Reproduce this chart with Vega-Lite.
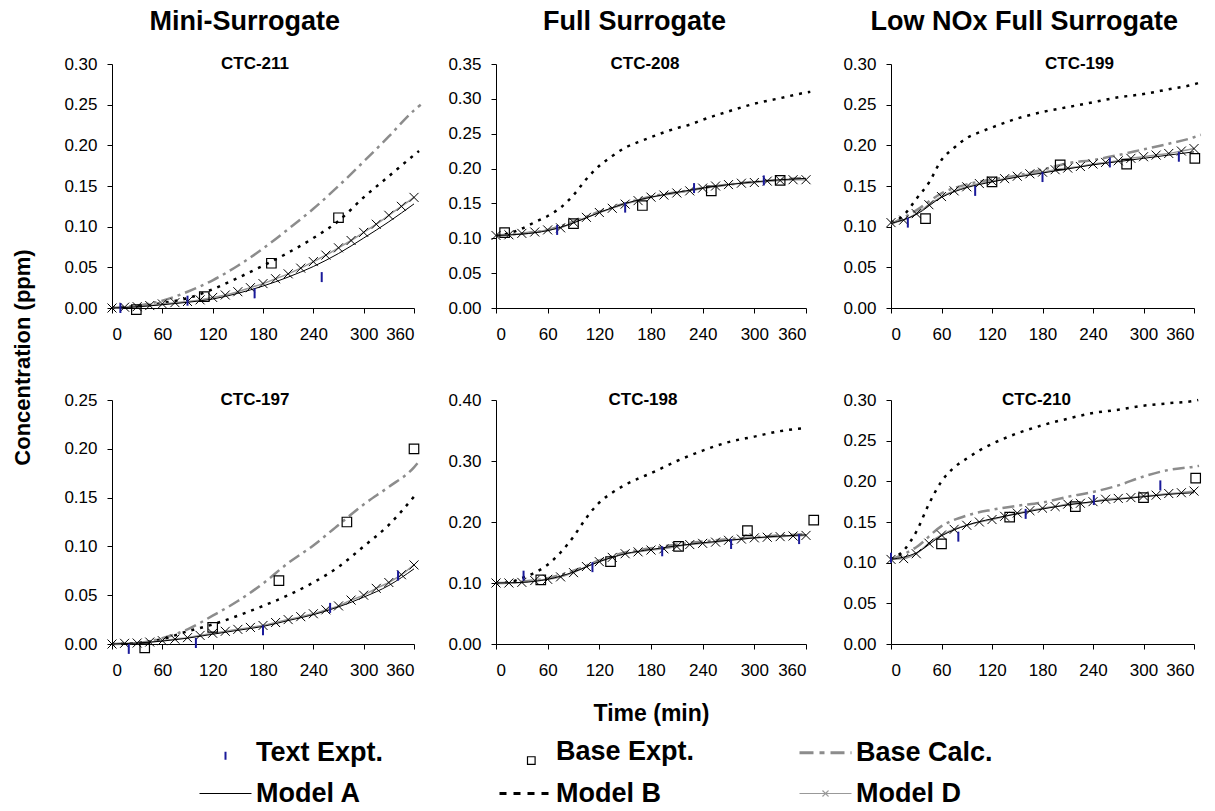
{
"$schema": "https://vega.github.io/schema/vega-lite/v6.json",
"padding": {"left": 11, "top": 8, "right": 5, "bottom": 5},
"background": "white",
"config": {
 "font": "Liberation Sans",
 "view": {"stroke": null},
 "axis": {"domainColor": "#000000", "tickColor": "#000000", "labelColor": "#000000", "labelFontSize": 17, "tickSize": 5, "grid": false, "labelFont": "Liberation Sans", "titleColor": "#000000"},
 "axisX": {"labelPadding": 13},
 "axisY": {"labelPadding": 10},
 "legend": {"direction": "horizontal"}
},
"title": {"text": "Concentration (ppm)", "orient": "left", "fontSize": 22, "fontWeight": "bold", "anchor": "middle", "offset": 29, "dx": 50, "color": "#000000"},
"datasets": {"d": [
{"run":"CTC-211","series":"Model D","t":0,"c":0},{"run":"CTC-211","series":"Model D","t":15,"c":0.001},{"run":"CTC-211","series":"Model D","t":30,"c":0.0016},{"run":"CTC-211","series":"Model D","t":45,"c":0.003},{"run":"CTC-211","series":"Model D","t":60,"c":0.005},{"run":"CTC-211","series":"Model D","t":75,"c":0.0066},{"run":"CTC-211","series":"Model D","t":90,"c":0.008},{"run":"CTC-211","series":"Model D","t":105,"c":0.01},{"run":"CTC-211","series":"Model D","t":120,"c":0.013},{"run":"CTC-211","series":"Model D","t":135,"c":0.016},{"run":"CTC-211","series":"Model D","t":150,"c":0.02},{"run":"CTC-211","series":"Model D","t":165,"c":0.025},{"run":"CTC-211","series":"Model D","t":180,"c":0.03},{"run":"CTC-211","series":"Model D","t":195,"c":0.036},{"run":"CTC-211","series":"Model D","t":210,"c":0.042},{"run":"CTC-211","series":"Model D","t":225,"c":0.049},{"run":"CTC-211","series":"Model D","t":240,"c":0.057},{"run":"CTC-211","series":"Model D","t":255,"c":0.065},{"run":"CTC-211","series":"Model D","t":270,"c":0.074},{"run":"CTC-211","series":"Model D","t":285,"c":0.083},{"run":"CTC-211","series":"Model D","t":300,"c":0.093},{"run":"CTC-211","series":"Model D","t":315,"c":0.103},{"run":"CTC-211","series":"Model D","t":330,"c":0.114},{"run":"CTC-211","series":"Model D","t":345,"c":0.125},{"run":"CTC-211","series":"Model D","t":360,"c":0.136},
{"run":"CTC-211","series":"Model A","t":0,"c":0},{"run":"CTC-211","series":"Model A","t":30,"c":0.0015},{"run":"CTC-211","series":"Model A","t":60,"c":0.004},{"run":"CTC-211","series":"Model A","t":90,"c":0.007},{"run":"CTC-211","series":"Model A","t":120,"c":0.011},{"run":"CTC-211","series":"Model A","t":150,"c":0.018},{"run":"CTC-211","series":"Model A","t":180,"c":0.027},{"run":"CTC-211","series":"Model A","t":210,"c":0.038},{"run":"CTC-211","series":"Model A","t":240,"c":0.051},{"run":"CTC-211","series":"Model A","t":270,"c":0.067},{"run":"CTC-211","series":"Model A","t":300,"c":0.086},{"run":"CTC-211","series":"Model A","t":330,"c":0.106},{"run":"CTC-211","series":"Model A","t":360,"c":0.128},
{"run":"CTC-211","series":"Base Calc.","t":0,"c":0},{"run":"CTC-211","series":"Base Calc.","t":30,"c":0.003},{"run":"CTC-211","series":"Base Calc.","t":60,"c":0.009},{"run":"CTC-211","series":"Base Calc.","t":90,"c":0.02},{"run":"CTC-211","series":"Base Calc.","t":120,"c":0.034},{"run":"CTC-211","series":"Base Calc.","t":150,"c":0.052},{"run":"CTC-211","series":"Base Calc.","t":180,"c":0.073},{"run":"CTC-211","series":"Base Calc.","t":210,"c":0.097},{"run":"CTC-211","series":"Base Calc.","t":240,"c":0.122},{"run":"CTC-211","series":"Base Calc.","t":270,"c":0.15},{"run":"CTC-211","series":"Base Calc.","t":300,"c":0.18},{"run":"CTC-211","series":"Base Calc.","t":330,"c":0.211},{"run":"CTC-211","series":"Base Calc.","t":360,"c":0.243},{"run":"CTC-211","series":"Base Calc.","t":368,"c":0.25},
{"run":"CTC-211","series":"Model B","t":0,"c":0},{"run":"CTC-211","series":"Model B","t":30,"c":0.002},{"run":"CTC-211","series":"Model B","t":60,"c":0.006},{"run":"CTC-211","series":"Model B","t":90,"c":0.012},{"run":"CTC-211","series":"Model B","t":120,"c":0.023},{"run":"CTC-211","series":"Model B","t":150,"c":0.037},{"run":"CTC-211","series":"Model B","t":180,"c":0.052},{"run":"CTC-211","series":"Model B","t":210,"c":0.068},{"run":"CTC-211","series":"Model B","t":240,"c":0.086},{"run":"CTC-211","series":"Model B","t":270,"c":0.107},{"run":"CTC-211","series":"Model B","t":300,"c":0.136},{"run":"CTC-211","series":"Model B","t":330,"c":0.162},{"run":"CTC-211","series":"Model B","t":360,"c":0.188},{"run":"CTC-211","series":"Model B","t":366,"c":0.193},
{"run":"CTC-211","series":"Base Expt.","t":29,"c":-0.002},{"run":"CTC-211","series":"Base Expt.","t":110,"c":0.014},{"run":"CTC-211","series":"Base Expt.","t":190,"c":0.055},{"run":"CTC-211","series":"Base Expt.","t":270,"c":0.111},
{"run":"CTC-211","series":"Text Expt.","t":10,"c":0},{"run":"CTC-211","series":"Text Expt.","t":90,"c":0.009},{"run":"CTC-211","series":"Text Expt.","t":170,"c":0.018},{"run":"CTC-211","series":"Text Expt.","t":250,"c":0.038},

{"run":"CTC-208","series":"Model D","t":0,"c":0.104},{"run":"CTC-208","series":"Model D","t":15,"c":0.105},{"run":"CTC-208","series":"Model D","t":30,"c":0.107},{"run":"CTC-208","series":"Model D","t":45,"c":0.109},{"run":"CTC-208","series":"Model D","t":60,"c":0.112},{"run":"CTC-208","series":"Model D","t":75,"c":0.115},{"run":"CTC-208","series":"Model D","t":90,"c":0.123},{"run":"CTC-208","series":"Model D","t":105,"c":0.13},{"run":"CTC-208","series":"Model D","t":120,"c":0.137},{"run":"CTC-208","series":"Model D","t":135,"c":0.143},{"run":"CTC-208","series":"Model D","t":150,"c":0.149},{"run":"CTC-208","series":"Model D","t":165,"c":0.154},{"run":"CTC-208","series":"Model D","t":180,"c":0.159},{"run":"CTC-208","series":"Model D","t":195,"c":0.162},{"run":"CTC-208","series":"Model D","t":210,"c":0.165},{"run":"CTC-208","series":"Model D","t":225,"c":0.168},{"run":"CTC-208","series":"Model D","t":240,"c":0.172},{"run":"CTC-208","series":"Model D","t":255,"c":0.175},{"run":"CTC-208","series":"Model D","t":270,"c":0.177},{"run":"CTC-208","series":"Model D","t":285,"c":0.179},{"run":"CTC-208","series":"Model D","t":300,"c":0.18},{"run":"CTC-208","series":"Model D","t":315,"c":0.182},{"run":"CTC-208","series":"Model D","t":330,"c":0.183},{"run":"CTC-208","series":"Model D","t":345,"c":0.184},{"run":"CTC-208","series":"Model D","t":360,"c":0.184},
{"run":"CTC-208","series":"Model A","t":0,"c":0.104},{"run":"CTC-208","series":"Model A","t":30,"c":0.106},{"run":"CTC-208","series":"Model A","t":60,"c":0.111},{"run":"CTC-208","series":"Model A","t":90,"c":0.122},{"run":"CTC-208","series":"Model A","t":120,"c":0.137},{"run":"CTC-208","series":"Model A","t":150,"c":0.15},{"run":"CTC-208","series":"Model A","t":180,"c":0.159},{"run":"CTC-208","series":"Model A","t":210,"c":0.166},{"run":"CTC-208","series":"Model A","t":240,"c":0.172},{"run":"CTC-208","series":"Model A","t":270,"c":0.177},{"run":"CTC-208","series":"Model A","t":300,"c":0.181},{"run":"CTC-208","series":"Model A","t":330,"c":0.184},{"run":"CTC-208","series":"Model A","t":360,"c":0.186},
{"run":"CTC-208","series":"Base Calc.","t":0,"c":0.104},{"run":"CTC-208","series":"Base Calc.","t":30,"c":0.107},{"run":"CTC-208","series":"Base Calc.","t":60,"c":0.112},{"run":"CTC-208","series":"Base Calc.","t":90,"c":0.124},{"run":"CTC-208","series":"Base Calc.","t":120,"c":0.138},{"run":"CTC-208","series":"Base Calc.","t":150,"c":0.15},{"run":"CTC-208","series":"Base Calc.","t":180,"c":0.16},{"run":"CTC-208","series":"Base Calc.","t":210,"c":0.166},{"run":"CTC-208","series":"Base Calc.","t":240,"c":0.172},{"run":"CTC-208","series":"Base Calc.","t":270,"c":0.177},{"run":"CTC-208","series":"Base Calc.","t":300,"c":0.181},{"run":"CTC-208","series":"Base Calc.","t":330,"c":0.184},{"run":"CTC-208","series":"Base Calc.","t":360,"c":0.187},
{"run":"CTC-208","series":"Model B","t":0,"c":0.104},{"run":"CTC-208","series":"Model B","t":15,"c":0.107},{"run":"CTC-208","series":"Model B","t":30,"c":0.114},{"run":"CTC-208","series":"Model B","t":45,"c":0.123},{"run":"CTC-208","series":"Model B","t":60,"c":0.132},{"run":"CTC-208","series":"Model B","t":75,"c":0.144},{"run":"CTC-208","series":"Model B","t":90,"c":0.162},{"run":"CTC-208","series":"Model B","t":105,"c":0.185},{"run":"CTC-208","series":"Model B","t":120,"c":0.204},{"run":"CTC-208","series":"Model B","t":135,"c":0.218},{"run":"CTC-208","series":"Model B","t":150,"c":0.23},{"run":"CTC-208","series":"Model B","t":165,"c":0.238},{"run":"CTC-208","series":"Model B","t":180,"c":0.245},{"run":"CTC-208","series":"Model B","t":195,"c":0.252},{"run":"CTC-208","series":"Model B","t":210,"c":0.258},{"run":"CTC-208","series":"Model B","t":225,"c":0.263},{"run":"CTC-208","series":"Model B","t":240,"c":0.27},{"run":"CTC-208","series":"Model B","t":270,"c":0.282},{"run":"CTC-208","series":"Model B","t":300,"c":0.293},{"run":"CTC-208","series":"Model B","t":330,"c":0.301},{"run":"CTC-208","series":"Model B","t":360,"c":0.309},{"run":"CTC-208","series":"Model B","t":365,"c":0.31},
{"run":"CTC-208","series":"Base Expt.","t":10,"c":0.108},{"run":"CTC-208","series":"Base Expt.","t":90,"c":0.121},{"run":"CTC-208","series":"Base Expt.","t":170,"c":0.147},{"run":"CTC-208","series":"Base Expt.","t":250,"c":0.168},{"run":"CTC-208","series":"Base Expt.","t":330,"c":0.183},
{"run":"CTC-208","series":"Text Expt.","t":71,"c":0.112},{"run":"CTC-208","series":"Text Expt.","t":150,"c":0.144},{"run":"CTC-208","series":"Text Expt.","t":230,"c":0.172},{"run":"CTC-208","series":"Text Expt.","t":311,"c":0.183},

{"run":"CTC-199","series":"Model D","t":0,"c":0.105},{"run":"CTC-199","series":"Model D","t":15,"c":0.108},{"run":"CTC-199","series":"Model D","t":30,"c":0.116},{"run":"CTC-199","series":"Model D","t":45,"c":0.127},{"run":"CTC-199","series":"Model D","t":60,"c":0.137},{"run":"CTC-199","series":"Model D","t":75,"c":0.144},{"run":"CTC-199","series":"Model D","t":90,"c":0.149},{"run":"CTC-199","series":"Model D","t":105,"c":0.153},{"run":"CTC-199","series":"Model D","t":120,"c":0.156},{"run":"CTC-199","series":"Model D","t":135,"c":0.159},{"run":"CTC-199","series":"Model D","t":150,"c":0.162},{"run":"CTC-199","series":"Model D","t":165,"c":0.165},{"run":"CTC-199","series":"Model D","t":180,"c":0.167},{"run":"CTC-199","series":"Model D","t":195,"c":0.17},{"run":"CTC-199","series":"Model D","t":210,"c":0.172},{"run":"CTC-199","series":"Model D","t":225,"c":0.174},{"run":"CTC-199","series":"Model D","t":240,"c":0.177},{"run":"CTC-199","series":"Model D","t":255,"c":0.179},{"run":"CTC-199","series":"Model D","t":270,"c":0.181},{"run":"CTC-199","series":"Model D","t":285,"c":0.184},{"run":"CTC-199","series":"Model D","t":300,"c":0.186},{"run":"CTC-199","series":"Model D","t":315,"c":0.188},{"run":"CTC-199","series":"Model D","t":330,"c":0.19},{"run":"CTC-199","series":"Model D","t":345,"c":0.193},{"run":"CTC-199","series":"Model D","t":360,"c":0.196},
{"run":"CTC-199","series":"Model A","t":0,"c":0.104},{"run":"CTC-199","series":"Model A","t":30,"c":0.115},{"run":"CTC-199","series":"Model A","t":60,"c":0.136},{"run":"CTC-199","series":"Model A","t":90,"c":0.148},{"run":"CTC-199","series":"Model A","t":120,"c":0.155},{"run":"CTC-199","series":"Model A","t":150,"c":0.161},{"run":"CTC-199","series":"Model A","t":180,"c":0.166},{"run":"CTC-199","series":"Model A","t":210,"c":0.171},{"run":"CTC-199","series":"Model A","t":240,"c":0.176},{"run":"CTC-199","series":"Model A","t":270,"c":0.18},{"run":"CTC-199","series":"Model A","t":300,"c":0.184},{"run":"CTC-199","series":"Model A","t":330,"c":0.188},{"run":"CTC-199","series":"Model A","t":360,"c":0.192},
{"run":"CTC-199","series":"Base Calc.","t":0,"c":0.103},{"run":"CTC-199","series":"Base Calc.","t":30,"c":0.12},{"run":"CTC-199","series":"Base Calc.","t":60,"c":0.141},{"run":"CTC-199","series":"Base Calc.","t":90,"c":0.152},{"run":"CTC-199","series":"Base Calc.","t":120,"c":0.158},{"run":"CTC-199","series":"Base Calc.","t":150,"c":0.163},{"run":"CTC-199","series":"Base Calc.","t":180,"c":0.17},{"run":"CTC-199","series":"Base Calc.","t":210,"c":0.178},{"run":"CTC-199","series":"Base Calc.","t":240,"c":0.182},{"run":"CTC-199","series":"Base Calc.","t":270,"c":0.188},{"run":"CTC-199","series":"Base Calc.","t":300,"c":0.195},{"run":"CTC-199","series":"Base Calc.","t":330,"c":0.202},{"run":"CTC-199","series":"Base Calc.","t":360,"c":0.21},{"run":"CTC-199","series":"Base Calc.","t":368,"c":0.213},
{"run":"CTC-199","series":"Model B","t":0,"c":0.105},{"run":"CTC-199","series":"Model B","t":15,"c":0.114},{"run":"CTC-199","series":"Model B","t":30,"c":0.134},{"run":"CTC-199","series":"Model B","t":45,"c":0.154},{"run":"CTC-199","series":"Model B","t":60,"c":0.182},{"run":"CTC-199","series":"Model B","t":75,"c":0.197},{"run":"CTC-199","series":"Model B","t":90,"c":0.209},{"run":"CTC-199","series":"Model B","t":105,"c":0.216},{"run":"CTC-199","series":"Model B","t":120,"c":0.222},{"run":"CTC-199","series":"Model B","t":150,"c":0.233},{"run":"CTC-199","series":"Model B","t":180,"c":0.241},{"run":"CTC-199","series":"Model B","t":210,"c":0.247},{"run":"CTC-199","series":"Model B","t":240,"c":0.253},{"run":"CTC-199","series":"Model B","t":270,"c":0.259},{"run":"CTC-199","series":"Model B","t":300,"c":0.263},{"run":"CTC-199","series":"Model B","t":330,"c":0.269},{"run":"CTC-199","series":"Model B","t":360,"c":0.275},{"run":"CTC-199","series":"Model B","t":366,"c":0.277},
{"run":"CTC-199","series":"Base Expt.","t":41,"c":0.11},{"run":"CTC-199","series":"Base Expt.","t":120,"c":0.155},{"run":"CTC-199","series":"Base Expt.","t":201,"c":0.176},{"run":"CTC-199","series":"Base Expt.","t":280,"c":0.177},{"run":"CTC-199","series":"Base Expt.","t":361,"c":0.184},
{"run":"CTC-199","series":"Text Expt.","t":20,"c":0.105},{"run":"CTC-199","series":"Text Expt.","t":100,"c":0.144},{"run":"CTC-199","series":"Text Expt.","t":180,"c":0.161},{"run":"CTC-199","series":"Text Expt.","t":260,"c":0.179},{"run":"CTC-199","series":"Text Expt.","t":342,"c":0.186},

{"run":"CTC-197","series":"Model D","t":0,"c":0},{"run":"CTC-197","series":"Model D","t":15,"c":0.0007},{"run":"CTC-197","series":"Model D","t":30,"c":0.001},{"run":"CTC-197","series":"Model D","t":45,"c":0.002},{"run":"CTC-197","series":"Model D","t":60,"c":0.0034},{"run":"CTC-197","series":"Model D","t":75,"c":0.005},{"run":"CTC-197","series":"Model D","t":90,"c":0.0065},{"run":"CTC-197","series":"Model D","t":105,"c":0.0088},{"run":"CTC-197","series":"Model D","t":120,"c":0.011},{"run":"CTC-197","series":"Model D","t":135,"c":0.013},{"run":"CTC-197","series":"Model D","t":150,"c":0.015},{"run":"CTC-197","series":"Model D","t":165,"c":0.017},{"run":"CTC-197","series":"Model D","t":180,"c":0.019},{"run":"CTC-197","series":"Model D","t":195,"c":0.022},{"run":"CTC-197","series":"Model D","t":210,"c":0.025},{"run":"CTC-197","series":"Model D","t":225,"c":0.028},{"run":"CTC-197","series":"Model D","t":240,"c":0.031},{"run":"CTC-197","series":"Model D","t":255,"c":0.035},{"run":"CTC-197","series":"Model D","t":270,"c":0.039},{"run":"CTC-197","series":"Model D","t":285,"c":0.045},{"run":"CTC-197","series":"Model D","t":300,"c":0.05},{"run":"CTC-197","series":"Model D","t":315,"c":0.057},{"run":"CTC-197","series":"Model D","t":330,"c":0.063},{"run":"CTC-197","series":"Model D","t":345,"c":0.071},{"run":"CTC-197","series":"Model D","t":360,"c":0.081},
{"run":"CTC-197","series":"Model A","t":0,"c":0},{"run":"CTC-197","series":"Model A","t":30,"c":0.001},{"run":"CTC-197","series":"Model A","t":60,"c":0.003},{"run":"CTC-197","series":"Model A","t":90,"c":0.006},{"run":"CTC-197","series":"Model A","t":120,"c":0.01},{"run":"CTC-197","series":"Model A","t":150,"c":0.014},{"run":"CTC-197","series":"Model A","t":180,"c":0.018},{"run":"CTC-197","series":"Model A","t":210,"c":0.024},{"run":"CTC-197","series":"Model A","t":240,"c":0.03},{"run":"CTC-197","series":"Model A","t":270,"c":0.038},{"run":"CTC-197","series":"Model A","t":300,"c":0.048},{"run":"CTC-197","series":"Model A","t":330,"c":0.06},{"run":"CTC-197","series":"Model A","t":360,"c":0.077},
{"run":"CTC-197","series":"Base Calc.","t":0,"c":0},{"run":"CTC-197","series":"Base Calc.","t":30,"c":0.001},{"run":"CTC-197","series":"Base Calc.","t":60,"c":0.006},{"run":"CTC-197","series":"Base Calc.","t":90,"c":0.015},{"run":"CTC-197","series":"Base Calc.","t":120,"c":0.029},{"run":"CTC-197","series":"Base Calc.","t":150,"c":0.044},{"run":"CTC-197","series":"Base Calc.","t":180,"c":0.062},{"run":"CTC-197","series":"Base Calc.","t":210,"c":0.083},{"run":"CTC-197","series":"Base Calc.","t":240,"c":0.101},{"run":"CTC-197","series":"Base Calc.","t":270,"c":0.122},{"run":"CTC-197","series":"Base Calc.","t":300,"c":0.143},{"run":"CTC-197","series":"Base Calc.","t":330,"c":0.161},{"run":"CTC-197","series":"Base Calc.","t":360,"c":0.181},{"run":"CTC-197","series":"Base Calc.","t":365,"c":0.186},
{"run":"CTC-197","series":"Model B","t":0,"c":0},{"run":"CTC-197","series":"Model B","t":30,"c":0.001},{"run":"CTC-197","series":"Model B","t":60,"c":0.005},{"run":"CTC-197","series":"Model B","t":90,"c":0.013},{"run":"CTC-197","series":"Model B","t":120,"c":0.02},{"run":"CTC-197","series":"Model B","t":150,"c":0.029},{"run":"CTC-197","series":"Model B","t":180,"c":0.039},{"run":"CTC-197","series":"Model B","t":210,"c":0.05},{"run":"CTC-197","series":"Model B","t":240,"c":0.063},{"run":"CTC-197","series":"Model B","t":270,"c":0.079},{"run":"CTC-197","series":"Model B","t":300,"c":0.1},{"run":"CTC-197","series":"Model B","t":330,"c":0.122},{"run":"CTC-197","series":"Model B","t":360,"c":0.151},
{"run":"CTC-197","series":"Base Expt.","t":39,"c":-0.004},{"run":"CTC-197","series":"Base Expt.","t":120,"c":0.017},{"run":"CTC-197","series":"Base Expt.","t":199,"c":0.065},{"run":"CTC-197","series":"Base Expt.","t":280,"c":0.125},{"run":"CTC-197","series":"Base Expt.","t":360,"c":0.2},
{"run":"CTC-197","series":"Text Expt.","t":20,"c":-0.005},{"run":"CTC-197","series":"Text Expt.","t":100,"c":0.001},{"run":"CTC-197","series":"Text Expt.","t":180,"c":0.014},{"run":"CTC-197","series":"Text Expt.","t":260,"c":0.037},{"run":"CTC-197","series":"Text Expt.","t":341,"c":0.07},

{"run":"CTC-198","series":"Model D","t":0,"c":0.1},{"run":"CTC-198","series":"Model D","t":15,"c":0.1},{"run":"CTC-198","series":"Model D","t":30,"c":0.101},{"run":"CTC-198","series":"Model D","t":45,"c":0.104},{"run":"CTC-198","series":"Model D","t":60,"c":0.106},{"run":"CTC-198","series":"Model D","t":75,"c":0.11},{"run":"CTC-198","series":"Model D","t":90,"c":0.117},{"run":"CTC-198","series":"Model D","t":105,"c":0.127},{"run":"CTC-198","series":"Model D","t":120,"c":0.135},{"run":"CTC-198","series":"Model D","t":135,"c":0.142},{"run":"CTC-198","series":"Model D","t":150,"c":0.148},{"run":"CTC-198","series":"Model D","t":165,"c":0.151},{"run":"CTC-198","series":"Model D","t":180,"c":0.154},{"run":"CTC-198","series":"Model D","t":195,"c":0.156},{"run":"CTC-198","series":"Model D","t":210,"c":0.16},{"run":"CTC-198","series":"Model D","t":225,"c":0.163},{"run":"CTC-198","series":"Model D","t":240,"c":0.165},{"run":"CTC-198","series":"Model D","t":255,"c":0.167},{"run":"CTC-198","series":"Model D","t":270,"c":0.17},{"run":"CTC-198","series":"Model D","t":285,"c":0.172},{"run":"CTC-198","series":"Model D","t":300,"c":0.174},{"run":"CTC-198","series":"Model D","t":315,"c":0.175},{"run":"CTC-198","series":"Model D","t":330,"c":0.176},{"run":"CTC-198","series":"Model D","t":345,"c":0.177},{"run":"CTC-198","series":"Model D","t":360,"c":0.178},
{"run":"CTC-198","series":"Model A","t":0,"c":0.1},{"run":"CTC-198","series":"Model A","t":30,"c":0.101},{"run":"CTC-198","series":"Model A","t":60,"c":0.106},{"run":"CTC-198","series":"Model A","t":90,"c":0.118},{"run":"CTC-198","series":"Model A","t":120,"c":0.135},{"run":"CTC-198","series":"Model A","t":150,"c":0.148},{"run":"CTC-198","series":"Model A","t":180,"c":0.155},{"run":"CTC-198","series":"Model A","t":210,"c":0.161},{"run":"CTC-198","series":"Model A","t":240,"c":0.166},{"run":"CTC-198","series":"Model A","t":270,"c":0.17},{"run":"CTC-198","series":"Model A","t":300,"c":0.174},{"run":"CTC-198","series":"Model A","t":330,"c":0.177},{"run":"CTC-198","series":"Model A","t":360,"c":0.179},
{"run":"CTC-198","series":"Base Calc.","t":0,"c":0.1},{"run":"CTC-198","series":"Base Calc.","t":30,"c":0.102},{"run":"CTC-198","series":"Base Calc.","t":60,"c":0.108},{"run":"CTC-198","series":"Base Calc.","t":90,"c":0.12},{"run":"CTC-198","series":"Base Calc.","t":120,"c":0.137},{"run":"CTC-198","series":"Base Calc.","t":150,"c":0.15},{"run":"CTC-198","series":"Base Calc.","t":180,"c":0.157},{"run":"CTC-198","series":"Base Calc.","t":210,"c":0.163},{"run":"CTC-198","series":"Base Calc.","t":240,"c":0.168},{"run":"CTC-198","series":"Base Calc.","t":270,"c":0.172},{"run":"CTC-198","series":"Base Calc.","t":300,"c":0.175},{"run":"CTC-198","series":"Base Calc.","t":330,"c":0.178},{"run":"CTC-198","series":"Base Calc.","t":360,"c":0.18},
{"run":"CTC-198","series":"Model B","t":0,"c":0.1},{"run":"CTC-198","series":"Model B","t":15,"c":0.101},{"run":"CTC-198","series":"Model B","t":30,"c":0.108},{"run":"CTC-198","series":"Model B","t":45,"c":0.117},{"run":"CTC-198","series":"Model B","t":60,"c":0.13},{"run":"CTC-198","series":"Model B","t":75,"c":0.15},{"run":"CTC-198","series":"Model B","t":90,"c":0.176},{"run":"CTC-198","series":"Model B","t":105,"c":0.207},{"run":"CTC-198","series":"Model B","t":120,"c":0.232},{"run":"CTC-198","series":"Model B","t":135,"c":0.248},{"run":"CTC-198","series":"Model B","t":150,"c":0.261},{"run":"CTC-198","series":"Model B","t":165,"c":0.271},{"run":"CTC-198","series":"Model B","t":180,"c":0.28},{"run":"CTC-198","series":"Model B","t":210,"c":0.3},{"run":"CTC-198","series":"Model B","t":240,"c":0.317},{"run":"CTC-198","series":"Model B","t":270,"c":0.331},{"run":"CTC-198","series":"Model B","t":300,"c":0.34},{"run":"CTC-198","series":"Model B","t":330,"c":0.349},{"run":"CTC-198","series":"Model B","t":360,"c":0.354},
{"run":"CTC-198","series":"Base Expt.","t":52,"c":0.105},{"run":"CTC-198","series":"Base Expt.","t":133,"c":0.135},{"run":"CTC-198","series":"Base Expt.","t":212,"c":0.16},{"run":"CTC-198","series":"Base Expt.","t":292,"c":0.186},{"run":"CTC-198","series":"Base Expt.","t":369,"c":0.203},
{"run":"CTC-198","series":"Text Expt.","t":32,"c":0.112},{"run":"CTC-198","series":"Text Expt.","t":112,"c":0.126},{"run":"CTC-198","series":"Text Expt.","t":193,"c":0.152},{"run":"CTC-198","series":"Text Expt.","t":273,"c":0.164},{"run":"CTC-198","series":"Text Expt.","t":352,"c":0.172},

{"run":"CTC-210","series":"Model D","t":0,"c":0.104},{"run":"CTC-210","series":"Model D","t":15,"c":0.105},{"run":"CTC-210","series":"Model D","t":30,"c":0.111},{"run":"CTC-210","series":"Model D","t":45,"c":0.124},{"run":"CTC-210","series":"Model D","t":60,"c":0.134},{"run":"CTC-210","series":"Model D","t":75,"c":0.141},{"run":"CTC-210","series":"Model D","t":90,"c":0.146},{"run":"CTC-210","series":"Model D","t":105,"c":0.15},{"run":"CTC-210","series":"Model D","t":120,"c":0.153},{"run":"CTC-210","series":"Model D","t":135,"c":0.157},{"run":"CTC-210","series":"Model D","t":150,"c":0.161},{"run":"CTC-210","series":"Model D","t":165,"c":0.164},{"run":"CTC-210","series":"Model D","t":180,"c":0.167},{"run":"CTC-210","series":"Model D","t":195,"c":0.169},{"run":"CTC-210","series":"Model D","t":210,"c":0.172},{"run":"CTC-210","series":"Model D","t":225,"c":0.173},{"run":"CTC-210","series":"Model D","t":240,"c":0.175},{"run":"CTC-210","series":"Model D","t":255,"c":0.178},{"run":"CTC-210","series":"Model D","t":270,"c":0.179},{"run":"CTC-210","series":"Model D","t":285,"c":0.18},{"run":"CTC-210","series":"Model D","t":300,"c":0.182},{"run":"CTC-210","series":"Model D","t":315,"c":0.183},{"run":"CTC-210","series":"Model D","t":330,"c":0.185},{"run":"CTC-210","series":"Model D","t":345,"c":0.186},{"run":"CTC-210","series":"Model D","t":360,"c":0.188},
{"run":"CTC-210","series":"Model A","t":0,"c":0.104},{"run":"CTC-210","series":"Model A","t":30,"c":0.112},{"run":"CTC-210","series":"Model A","t":60,"c":0.133},{"run":"CTC-210","series":"Model A","t":90,"c":0.146},{"run":"CTC-210","series":"Model A","t":120,"c":0.154},{"run":"CTC-210","series":"Model A","t":150,"c":0.16},{"run":"CTC-210","series":"Model A","t":180,"c":0.166},{"run":"CTC-210","series":"Model A","t":210,"c":0.171},{"run":"CTC-210","series":"Model A","t":240,"c":0.175},{"run":"CTC-210","series":"Model A","t":270,"c":0.178},{"run":"CTC-210","series":"Model A","t":300,"c":0.181},{"run":"CTC-210","series":"Model A","t":330,"c":0.184},{"run":"CTC-210","series":"Model A","t":360,"c":0.186},
{"run":"CTC-210","series":"Base Calc.","t":0,"c":0.104},{"run":"CTC-210","series":"Base Calc.","t":30,"c":0.119},{"run":"CTC-210","series":"Base Calc.","t":60,"c":0.145},{"run":"CTC-210","series":"Base Calc.","t":90,"c":0.158},{"run":"CTC-210","series":"Base Calc.","t":120,"c":0.165},{"run":"CTC-210","series":"Base Calc.","t":150,"c":0.17},{"run":"CTC-210","series":"Base Calc.","t":180,"c":0.174},{"run":"CTC-210","series":"Base Calc.","t":210,"c":0.181},{"run":"CTC-210","series":"Base Calc.","t":240,"c":0.187},{"run":"CTC-210","series":"Base Calc.","t":270,"c":0.195},{"run":"CTC-210","series":"Base Calc.","t":300,"c":0.206},{"run":"CTC-210","series":"Base Calc.","t":330,"c":0.214},{"run":"CTC-210","series":"Base Calc.","t":360,"c":0.218},{"run":"CTC-210","series":"Base Calc.","t":366,"c":0.219},
{"run":"CTC-210","series":"Model B","t":0,"c":0.104},{"run":"CTC-210","series":"Model B","t":15,"c":0.115},{"run":"CTC-210","series":"Model B","t":30,"c":0.138},{"run":"CTC-210","series":"Model B","t":45,"c":0.172},{"run":"CTC-210","series":"Model B","t":60,"c":0.2},{"run":"CTC-210","series":"Model B","t":75,"c":0.217},{"run":"CTC-210","series":"Model B","t":90,"c":0.228},{"run":"CTC-210","series":"Model B","t":105,"c":0.238},{"run":"CTC-210","series":"Model B","t":120,"c":0.246},{"run":"CTC-210","series":"Model B","t":150,"c":0.259},{"run":"CTC-210","series":"Model B","t":180,"c":0.269},{"run":"CTC-210","series":"Model B","t":210,"c":0.277},{"run":"CTC-210","series":"Model B","t":240,"c":0.284},{"run":"CTC-210","series":"Model B","t":270,"c":0.288},{"run":"CTC-210","series":"Model B","t":300,"c":0.293},{"run":"CTC-210","series":"Model B","t":330,"c":0.296},{"run":"CTC-210","series":"Model B","t":360,"c":0.299},{"run":"CTC-210","series":"Model B","t":365,"c":0.3},
{"run":"CTC-210","series":"Base Expt.","t":60,"c":0.123},{"run":"CTC-210","series":"Base Expt.","t":141,"c":0.156},{"run":"CTC-210","series":"Base Expt.","t":219,"c":0.169},{"run":"CTC-210","series":"Base Expt.","t":300,"c":0.18},{"run":"CTC-210","series":"Base Expt.","t":362,"c":0.204},
{"run":"CTC-210","series":"Text Expt.","t":0,"c":0.106},{"run":"CTC-210","series":"Text Expt.","t":80,"c":0.132},{"run":"CTC-210","series":"Text Expt.","t":160,"c":0.16},{"run":"CTC-210","series":"Text Expt.","t":241,"c":0.177},{"run":"CTC-210","series":"Text Expt.","t":320,"c":0.195}
]},
"spacing": 21,
"hconcat": [
 {"title": {"text": "Mini-Surrogate", "fontSize": 27, "fontWeight": "bold", "anchor": "middle", "offset": 19, "color": "#000000"},
  "spacing": 49,
  "vconcat": [
   {"width": 302, "height": 244, "data": {"name": "d"},
    "transform": [{"filter": "datum.run === 'CTC-211'"}],
    "title": {"text": "CTC-211", "fontSize": 17, "fontWeight": "bold", "anchor": "middle", "frame": "group", "offset": -18, "dx": -8, "color": "#000000"},
    "encoding": {
     "x": {"field": "t", "type": "quantitative", "scale": {"domain": [0, 360], "nice": false, "zero": false}, "axis": {"values": [0, 60, 120, 180, 240, 300, 360], "title": null}},
     "y": {"field": "c", "type": "quantitative", "scale": {"domain": [0, 0.3], "nice": false, "zero": false}, "axis": {"values": [0, 0.05, 0.1, 0.15, 0.2, 0.25, 0.3], "format": ".2f", "title": null}},
     "color": {"field": "series", "type": "nominal",
      "scale": {"domain": ["Text Expt.", "Base Expt.", "Base Calc.", "Model A", "Model B", "Model D"], "range": ["#1a1a9a", "#000000", "#8c8c8c", "#000000", "#000000", "#999999"]},
      "legend": {"title": null, "orient": "none", "direction": "horizontal", "legendX": 100, "legendY": 674, "columns": 3, "gridAlign": "all", "columnPadding": 98, "rowPadding": 12, "symbolSize": 1600, "labelFontSize": 27, "labelFontWeight": "bold", "labelFont": "Liberation Sans", "labelColor": "#000000", "labelOffset": 17, "labelLimit": 400,
       "encode": {"symbols": {"update": {
        "shape": {"signal": "datum.value === 'Text Expt.' ? 'M0,-0.05L0,0.35' : datum.value === 'Base Expt.' ? 'M0.1,0.25L0.48,0.25L0.48,0.63L0.1,0.63Z' : datum.value === 'Model D' ? 'M-1.3,0L1.3,0M-0.15,-0.15L0.15,0.15M-0.15,0.15L0.15,-0.15' : 'M-1.3,0L1.3,0'"},
        "stroke": {"signal": "datum.value === 'Text Expt.' ? '#1a1a9a' : datum.value === 'Base Calc.' ? '#8c8c8c' : datum.value === 'Model A' ? '#555555' : datum.value === 'Model D' ? '#777777' : '#000000'"},
        "strokeWidth": {"signal": "datum.value === 'Base Calc.' || datum.value === 'Model B' ? 3 : datum.value === 'Text Expt.' ? 2 : 1.2"},
        "strokeDash": {"signal": "datum.value === 'Base Calc.' ? [14, 6, 5, 6] : datum.value === 'Model B' ? [7, 7] : [1, 0]"},
        "fill": {"value": "transparent"},
        "size": {"value": 1600},
        "opacity": {"value": 1}}}}}}
    },
    "layer": [
     {"transform": [{"filter": "datum.series === 'Base Calc.'"}], "mark": {"type": "line", "interpolate": "monotone", "strokeWidth": 2.5, "strokeDash": [12, 5, 3, 5]}},
     {"transform": [{"filter": "datum.series === 'Model B'"}], "mark": {"type": "line", "interpolate": "monotone", "strokeWidth": 2.5, "strokeDash": [3, 6]}},
     {"transform": [{"filter": "datum.series === 'Model D'"}], "mark": {"type": "line", "interpolate": "monotone", "strokeWidth": 1.5}},
     {"transform": [{"filter": "datum.series === 'Model A'"}], "mark": {"type": "line", "interpolate": "monotone", "strokeWidth": 1}},
     {"transform": [{"filter": "datum.series === 'Model D'"}], "mark": {"type": "point", "shape": "M-1,-1L1,1M-1,1L1,-1", "size": 81, "strokeWidth": 1, "filled": false, "opacity": 1}, "encoding": {"color": {"value": "#000000"}}},
     {"transform": [{"filter": "datum.series === 'Base Expt.'"}], "mark": {"type": "point", "shape": "square", "size": 90, "strokeWidth": 1.2, "filled": false, "opacity": 1}},
     {"transform": [{"filter": "datum.series === 'Text Expt.'"}], "mark": {"type": "point", "shape": "M0,-1L0,1", "size": 100, "strokeWidth": 2, "filled": false, "opacity": 1}}
    ]},
   {"width": 302, "height": 244, "data": {"name": "d"},
    "transform": [{"filter": "datum.run === 'CTC-197'"}],
    "title": {"text": "CTC-197", "fontSize": 17, "fontWeight": "bold", "anchor": "middle", "frame": "group", "offset": -18, "dx": -8, "color": "#000000"},
    "encoding": {
     "x": {"field": "t", "type": "quantitative", "scale": {"domain": [0, 360], "nice": false, "zero": false}, "axis": {"values": [0, 60, 120, 180, 240, 300, 360], "title": null}},
     "y": {"field": "c", "type": "quantitative", "scale": {"domain": [0, 0.25], "nice": false, "zero": false}, "axis": {"values": [0, 0.05, 0.1, 0.15, 0.2, 0.25], "format": ".2f", "title": null}},
     "color": {"field": "series", "type": "nominal",
      "scale": {"domain": ["Text Expt.", "Base Expt.", "Base Calc.", "Model A", "Model B", "Model D"], "range": ["#1a1a9a", "#000000", "#8c8c8c", "#000000", "#000000", "#999999"]},
      "legend": {"title": null, "orient": "none", "direction": "horizontal", "legendX": 100, "legendY": 674, "columns": 3, "gridAlign": "all", "columnPadding": 98, "rowPadding": 12, "symbolSize": 1600, "labelFontSize": 27, "labelFontWeight": "bold", "labelFont": "Liberation Sans", "labelColor": "#000000", "labelOffset": 17, "labelLimit": 400,
       "encode": {"symbols": {"update": {
        "shape": {"signal": "datum.value === 'Text Expt.' ? 'M0,-0.05L0,0.35' : datum.value === 'Base Expt.' ? 'M0.1,0.25L0.48,0.25L0.48,0.63L0.1,0.63Z' : datum.value === 'Model D' ? 'M-1.3,0L1.3,0M-0.15,-0.15L0.15,0.15M-0.15,0.15L0.15,-0.15' : 'M-1.3,0L1.3,0'"},
        "stroke": {"signal": "datum.value === 'Text Expt.' ? '#1a1a9a' : datum.value === 'Base Calc.' ? '#8c8c8c' : datum.value === 'Model A' ? '#555555' : datum.value === 'Model D' ? '#777777' : '#000000'"},
        "strokeWidth": {"signal": "datum.value === 'Base Calc.' || datum.value === 'Model B' ? 3 : datum.value === 'Text Expt.' ? 2 : 1.2"},
        "strokeDash": {"signal": "datum.value === 'Base Calc.' ? [14, 6, 5, 6] : datum.value === 'Model B' ? [7, 7] : [1, 0]"},
        "fill": {"value": "transparent"},
        "size": {"value": 1600},
        "opacity": {"value": 1}}}}}}
    },
    "layer": [
     {"transform": [{"filter": "datum.series === 'Base Calc.'"}], "mark": {"type": "line", "interpolate": "monotone", "strokeWidth": 2.5, "strokeDash": [12, 5, 3, 5]}},
     {"transform": [{"filter": "datum.series === 'Model B'"}], "mark": {"type": "line", "interpolate": "monotone", "strokeWidth": 2.5, "strokeDash": [3, 6]}},
     {"transform": [{"filter": "datum.series === 'Model D'"}], "mark": {"type": "line", "interpolate": "monotone", "strokeWidth": 1.5}},
     {"transform": [{"filter": "datum.series === 'Model A'"}], "mark": {"type": "line", "interpolate": "monotone", "strokeWidth": 1}},
     {"transform": [{"filter": "datum.series === 'Model D'"}], "mark": {"type": "point", "shape": "M-1,-1L1,1M-1,1L1,-1", "size": 81, "strokeWidth": 1, "filled": false, "opacity": 1}, "encoding": {"color": {"value": "#000000"}}},
     {"transform": [{"filter": "datum.series === 'Base Expt.'"}], "mark": {"type": "point", "shape": "square", "size": 90, "strokeWidth": 1.2, "filled": false, "opacity": 1}},
     {"transform": [{"filter": "datum.series === 'Text Expt.'"}], "mark": {"type": "point", "shape": "M0,-1L0,1", "size": 100, "strokeWidth": 2, "filled": false, "opacity": 1}}
    ]}
  ]},
 {"title": {"text": "Full Surrogate", "fontSize": 27, "fontWeight": "bold", "anchor": "middle", "offset": 19, "color": "#000000"},
  "spacing": 49,
  "vconcat": [
   {"width": 310, "height": 244, "data": {"name": "d"},
    "transform": [{"filter": "datum.run === 'CTC-208'"}],
    "title": {"text": "CTC-208", "fontSize": 17, "fontWeight": "bold", "anchor": "middle", "frame": "group", "offset": -18, "dx": -6, "color": "#000000"},
    "encoding": {
     "x": {"field": "t", "type": "quantitative", "scale": {"domain": [0, 360], "nice": false, "zero": false}, "axis": {"values": [0, 60, 120, 180, 240, 300, 360], "title": null}},
     "y": {"field": "c", "type": "quantitative", "scale": {"domain": [0, 0.35], "nice": false, "zero": false}, "axis": {"values": [0, 0.05, 0.1, 0.15, 0.2, 0.25, 0.3, 0.35], "format": ".2f", "title": null}},
     "color": {"field": "series", "type": "nominal",
      "scale": {"domain": ["Text Expt.", "Base Expt.", "Base Calc.", "Model A", "Model B", "Model D"], "range": ["#1a1a9a", "#000000", "#8c8c8c", "#000000", "#000000", "#999999"]},
      "legend": {"title": null, "orient": "none", "direction": "horizontal", "legendX": 100, "legendY": 674, "columns": 3, "gridAlign": "all", "columnPadding": 98, "rowPadding": 12, "symbolSize": 1600, "labelFontSize": 27, "labelFontWeight": "bold", "labelFont": "Liberation Sans", "labelColor": "#000000", "labelOffset": 17, "labelLimit": 400,
       "encode": {"symbols": {"update": {
        "shape": {"signal": "datum.value === 'Text Expt.' ? 'M0,-0.05L0,0.35' : datum.value === 'Base Expt.' ? 'M0.1,0.25L0.48,0.25L0.48,0.63L0.1,0.63Z' : datum.value === 'Model D' ? 'M-1.3,0L1.3,0M-0.15,-0.15L0.15,0.15M-0.15,0.15L0.15,-0.15' : 'M-1.3,0L1.3,0'"},
        "stroke": {"signal": "datum.value === 'Text Expt.' ? '#1a1a9a' : datum.value === 'Base Calc.' ? '#8c8c8c' : datum.value === 'Model A' ? '#555555' : datum.value === 'Model D' ? '#777777' : '#000000'"},
        "strokeWidth": {"signal": "datum.value === 'Base Calc.' || datum.value === 'Model B' ? 3 : datum.value === 'Text Expt.' ? 2 : 1.2"},
        "strokeDash": {"signal": "datum.value === 'Base Calc.' ? [14, 6, 5, 6] : datum.value === 'Model B' ? [7, 7] : [1, 0]"},
        "fill": {"value": "transparent"},
        "size": {"value": 1600},
        "opacity": {"value": 1}}}}}}
    },
    "layer": [
     {"transform": [{"filter": "datum.series === 'Base Calc.'"}], "mark": {"type": "line", "interpolate": "monotone", "strokeWidth": 2.5, "strokeDash": [12, 5, 3, 5]}},
     {"transform": [{"filter": "datum.series === 'Model B'"}], "mark": {"type": "line", "interpolate": "monotone", "strokeWidth": 2.5, "strokeDash": [3, 6]}},
     {"transform": [{"filter": "datum.series === 'Model D'"}], "mark": {"type": "line", "interpolate": "monotone", "strokeWidth": 1.5}},
     {"transform": [{"filter": "datum.series === 'Model A'"}], "mark": {"type": "line", "interpolate": "monotone", "strokeWidth": 1}},
     {"transform": [{"filter": "datum.series === 'Model D'"}], "mark": {"type": "point", "shape": "M-1,-1L1,1M-1,1L1,-1", "size": 81, "strokeWidth": 1, "filled": false, "opacity": 1}, "encoding": {"color": {"value": "#000000"}}},
     {"transform": [{"filter": "datum.series === 'Base Expt.'"}], "mark": {"type": "point", "shape": "square", "size": 90, "strokeWidth": 1.2, "filled": false, "opacity": 1}},
     {"transform": [{"filter": "datum.series === 'Text Expt.'"}], "mark": {"type": "point", "shape": "M0,-1L0,1", "size": 100, "strokeWidth": 2, "filled": false, "opacity": 1}}
    ]},
   {"width": 310, "height": 244, "data": {"name": "d"},
    "transform": [{"filter": "datum.run === 'CTC-198'"}],
    "title": {"text": "CTC-198", "fontSize": 17, "fontWeight": "bold", "anchor": "middle", "frame": "group", "offset": -18, "dx": -8, "color": "#000000"},
    "encoding": {
     "x": {"field": "t", "type": "quantitative", "scale": {"domain": [0, 360], "nice": false, "zero": false}, "axis": {"values": [0, 60, 120, 180, 240, 300, 360], "title": "Time (min)", "titleFontSize": 23, "titleFontWeight": "bold", "titlePadding": 24}},
     "y": {"field": "c", "type": "quantitative", "scale": {"domain": [0, 0.4], "nice": false, "zero": false}, "axis": {"values": [0, 0.1, 0.2, 0.3, 0.4], "format": ".2f", "title": null}},
     "color": {"field": "series", "type": "nominal",
      "scale": {"domain": ["Text Expt.", "Base Expt.", "Base Calc.", "Model A", "Model B", "Model D"], "range": ["#1a1a9a", "#000000", "#8c8c8c", "#000000", "#000000", "#999999"]},
      "legend": {"title": null, "orient": "none", "direction": "horizontal", "legendX": 100, "legendY": 674, "columns": 3, "gridAlign": "all", "columnPadding": 98, "rowPadding": 12, "symbolSize": 1600, "labelFontSize": 27, "labelFontWeight": "bold", "labelFont": "Liberation Sans", "labelColor": "#000000", "labelOffset": 17, "labelLimit": 400,
       "encode": {"symbols": {"update": {
        "shape": {"signal": "datum.value === 'Text Expt.' ? 'M0,-0.05L0,0.35' : datum.value === 'Base Expt.' ? 'M0.1,0.25L0.48,0.25L0.48,0.63L0.1,0.63Z' : datum.value === 'Model D' ? 'M-1.3,0L1.3,0M-0.15,-0.15L0.15,0.15M-0.15,0.15L0.15,-0.15' : 'M-1.3,0L1.3,0'"},
        "stroke": {"signal": "datum.value === 'Text Expt.' ? '#1a1a9a' : datum.value === 'Base Calc.' ? '#8c8c8c' : datum.value === 'Model A' ? '#555555' : datum.value === 'Model D' ? '#777777' : '#000000'"},
        "strokeWidth": {"signal": "datum.value === 'Base Calc.' || datum.value === 'Model B' ? 3 : datum.value === 'Text Expt.' ? 2 : 1.2"},
        "strokeDash": {"signal": "datum.value === 'Base Calc.' ? [14, 6, 5, 6] : datum.value === 'Model B' ? [7, 7] : [1, 0]"},
        "fill": {"value": "transparent"},
        "size": {"value": 1600},
        "opacity": {"value": 1}}}}}}
    },
    "layer": [
     {"transform": [{"filter": "datum.series === 'Base Calc.'"}], "mark": {"type": "line", "interpolate": "monotone", "strokeWidth": 2.5, "strokeDash": [12, 5, 3, 5]}},
     {"transform": [{"filter": "datum.series === 'Model B'"}], "mark": {"type": "line", "interpolate": "monotone", "strokeWidth": 2.5, "strokeDash": [3, 6]}},
     {"transform": [{"filter": "datum.series === 'Model D'"}], "mark": {"type": "line", "interpolate": "monotone", "strokeWidth": 1.5}},
     {"transform": [{"filter": "datum.series === 'Model A'"}], "mark": {"type": "line", "interpolate": "monotone", "strokeWidth": 1}},
     {"transform": [{"filter": "datum.series === 'Model D'"}], "mark": {"type": "point", "shape": "M-1,-1L1,1M-1,1L1,-1", "size": 81, "strokeWidth": 1, "filled": false, "opacity": 1}, "encoding": {"color": {"value": "#000000"}}},
     {"transform": [{"filter": "datum.series === 'Base Expt.'"}], "mark": {"type": "point", "shape": "square", "size": 90, "strokeWidth": 1.2, "filled": false, "opacity": 1}},
     {"transform": [{"filter": "datum.series === 'Text Expt.'"}], "mark": {"type": "point", "shape": "M0,-1L0,1", "size": 100, "strokeWidth": 2, "filled": false, "opacity": 1}}
    ]}
  ]},
 {"title": {"text": "Low NOx Full Surrogate", "fontSize": 27, "fontWeight": "bold", "anchor": "middle", "offset": 19, "color": "#000000"},
  "spacing": 49,
  "vconcat": [
   {"width": 303, "height": 244, "data": {"name": "d"},
    "transform": [{"filter": "datum.run === 'CTC-199'"}],
    "title": {"text": "CTC-199", "fontSize": 17, "fontWeight": "bold", "anchor": "middle", "frame": "group", "offset": -18, "dx": 37, "color": "#000000"},
    "encoding": {
     "x": {"field": "t", "type": "quantitative", "scale": {"domain": [0, 360], "nice": false, "zero": false}, "axis": {"values": [0, 60, 120, 180, 240, 300, 360], "title": null}},
     "y": {"field": "c", "type": "quantitative", "scale": {"domain": [0, 0.3], "nice": false, "zero": false}, "axis": {"values": [0, 0.05, 0.1, 0.15, 0.2, 0.25, 0.3], "format": ".2f", "title": null}},
     "color": {"field": "series", "type": "nominal",
      "scale": {"domain": ["Text Expt.", "Base Expt.", "Base Calc.", "Model A", "Model B", "Model D"], "range": ["#1a1a9a", "#000000", "#8c8c8c", "#000000", "#000000", "#999999"]},
      "legend": {"title": null, "orient": "none", "direction": "horizontal", "legendX": 100, "legendY": 674, "columns": 3, "gridAlign": "all", "columnPadding": 98, "rowPadding": 12, "symbolSize": 1600, "labelFontSize": 27, "labelFontWeight": "bold", "labelFont": "Liberation Sans", "labelColor": "#000000", "labelOffset": 17, "labelLimit": 400,
       "encode": {"symbols": {"update": {
        "shape": {"signal": "datum.value === 'Text Expt.' ? 'M0,-0.05L0,0.35' : datum.value === 'Base Expt.' ? 'M0.1,0.25L0.48,0.25L0.48,0.63L0.1,0.63Z' : datum.value === 'Model D' ? 'M-1.3,0L1.3,0M-0.15,-0.15L0.15,0.15M-0.15,0.15L0.15,-0.15' : 'M-1.3,0L1.3,0'"},
        "stroke": {"signal": "datum.value === 'Text Expt.' ? '#1a1a9a' : datum.value === 'Base Calc.' ? '#8c8c8c' : datum.value === 'Model A' ? '#555555' : datum.value === 'Model D' ? '#777777' : '#000000'"},
        "strokeWidth": {"signal": "datum.value === 'Base Calc.' || datum.value === 'Model B' ? 3 : datum.value === 'Text Expt.' ? 2 : 1.2"},
        "strokeDash": {"signal": "datum.value === 'Base Calc.' ? [14, 6, 5, 6] : datum.value === 'Model B' ? [7, 7] : [1, 0]"},
        "fill": {"value": "transparent"},
        "size": {"value": 1600},
        "opacity": {"value": 1}}}}}}
    },
    "layer": [
     {"transform": [{"filter": "datum.series === 'Base Calc.'"}], "mark": {"type": "line", "interpolate": "monotone", "strokeWidth": 2.5, "strokeDash": [12, 5, 3, 5]}},
     {"transform": [{"filter": "datum.series === 'Model B'"}], "mark": {"type": "line", "interpolate": "monotone", "strokeWidth": 2.5, "strokeDash": [3, 6]}},
     {"transform": [{"filter": "datum.series === 'Model D'"}], "mark": {"type": "line", "interpolate": "monotone", "strokeWidth": 1.5}},
     {"transform": [{"filter": "datum.series === 'Model A'"}], "mark": {"type": "line", "interpolate": "monotone", "strokeWidth": 1}},
     {"transform": [{"filter": "datum.series === 'Model D'"}], "mark": {"type": "point", "shape": "M-1,-1L1,1M-1,1L1,-1", "size": 81, "strokeWidth": 1, "filled": false, "opacity": 1}, "encoding": {"color": {"value": "#000000"}}},
     {"transform": [{"filter": "datum.series === 'Base Expt.'"}], "mark": {"type": "point", "shape": "square", "size": 90, "strokeWidth": 1.2, "filled": false, "opacity": 1}},
     {"transform": [{"filter": "datum.series === 'Text Expt.'"}], "mark": {"type": "point", "shape": "M0,-1L0,1", "size": 100, "strokeWidth": 2, "filled": false, "opacity": 1}}
    ]},
   {"width": 303, "height": 244, "data": {"name": "d"},
    "transform": [{"filter": "datum.run === 'CTC-210'"}],
    "title": {"text": "CTC-210", "fontSize": 17, "fontWeight": "bold", "anchor": "middle", "frame": "group", "offset": -18, "dx": -6, "color": "#000000"},
    "encoding": {
     "x": {"field": "t", "type": "quantitative", "scale": {"domain": [0, 360], "nice": false, "zero": false}, "axis": {"values": [0, 60, 120, 180, 240, 300, 360], "title": null}},
     "y": {"field": "c", "type": "quantitative", "scale": {"domain": [0, 0.3], "nice": false, "zero": false}, "axis": {"values": [0, 0.05, 0.1, 0.15, 0.2, 0.25, 0.3], "format": ".2f", "title": null}},
     "color": {"field": "series", "type": "nominal",
      "scale": {"domain": ["Text Expt.", "Base Expt.", "Base Calc.", "Model A", "Model B", "Model D"], "range": ["#1a1a9a", "#000000", "#8c8c8c", "#000000", "#000000", "#999999"]},
      "legend": {"title": null, "orient": "none", "direction": "horizontal", "legendX": 100, "legendY": 674, "columns": 3, "gridAlign": "all", "columnPadding": 98, "rowPadding": 12, "symbolSize": 1600, "labelFontSize": 27, "labelFontWeight": "bold", "labelFont": "Liberation Sans", "labelColor": "#000000", "labelOffset": 17, "labelLimit": 400,
       "encode": {"symbols": {"update": {
        "shape": {"signal": "datum.value === 'Text Expt.' ? 'M0,-0.05L0,0.35' : datum.value === 'Base Expt.' ? 'M0.1,0.25L0.48,0.25L0.48,0.63L0.1,0.63Z' : datum.value === 'Model D' ? 'M-1.3,0L1.3,0M-0.15,-0.15L0.15,0.15M-0.15,0.15L0.15,-0.15' : 'M-1.3,0L1.3,0'"},
        "stroke": {"signal": "datum.value === 'Text Expt.' ? '#1a1a9a' : datum.value === 'Base Calc.' ? '#8c8c8c' : datum.value === 'Model A' ? '#555555' : datum.value === 'Model D' ? '#777777' : '#000000'"},
        "strokeWidth": {"signal": "datum.value === 'Base Calc.' || datum.value === 'Model B' ? 3 : datum.value === 'Text Expt.' ? 2 : 1.2"},
        "strokeDash": {"signal": "datum.value === 'Base Calc.' ? [14, 6, 5, 6] : datum.value === 'Model B' ? [7, 7] : [1, 0]"},
        "fill": {"value": "transparent"},
        "size": {"value": 1600},
        "opacity": {"value": 1}}}}}}
    },
    "layer": [
     {"transform": [{"filter": "datum.series === 'Base Calc.'"}], "mark": {"type": "line", "interpolate": "monotone", "strokeWidth": 2.5, "strokeDash": [12, 5, 3, 5]}},
     {"transform": [{"filter": "datum.series === 'Model B'"}], "mark": {"type": "line", "interpolate": "monotone", "strokeWidth": 2.5, "strokeDash": [3, 6]}},
     {"transform": [{"filter": "datum.series === 'Model D'"}], "mark": {"type": "line", "interpolate": "monotone", "strokeWidth": 1.5}},
     {"transform": [{"filter": "datum.series === 'Model A'"}], "mark": {"type": "line", "interpolate": "monotone", "strokeWidth": 1}},
     {"transform": [{"filter": "datum.series === 'Model D'"}], "mark": {"type": "point", "shape": "M-1,-1L1,1M-1,1L1,-1", "size": 81, "strokeWidth": 1, "filled": false, "opacity": 1}, "encoding": {"color": {"value": "#000000"}}},
     {"transform": [{"filter": "datum.series === 'Base Expt.'"}], "mark": {"type": "point", "shape": "square", "size": 90, "strokeWidth": 1.2, "filled": false, "opacity": 1}},
     {"transform": [{"filter": "datum.series === 'Text Expt.'"}], "mark": {"type": "point", "shape": "M0,-1L0,1", "size": 100, "strokeWidth": 2, "filled": false, "opacity": 1}}
    ]}
  ]}
]
}
